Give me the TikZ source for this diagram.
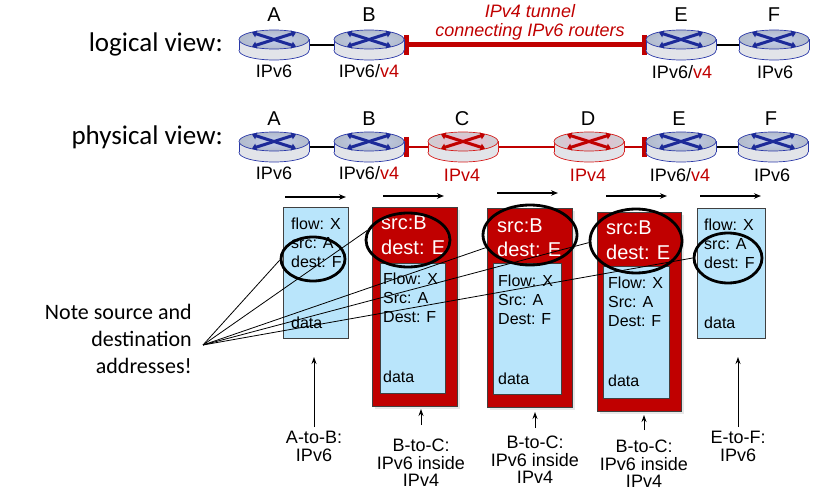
\documentclass[tikz,border=0pt]{standalone}
\usepackage{fontspec}
\setmainfont{Liberation Sans}
\newfontfamily\calfont{Carlito}
\usetikzlibrary{arrows.meta,shapes.geometric,shadows}
\definecolor{myred}{HTML}{C00000}
\definecolor{pktblue}{HTML}{B9E5FB}
\definecolor{rtblue}{HTML}{2A38A8}
\definecolor{rtface}{HTML}{B2BBCB}
\definecolor{rtlight}{HTML}{C4CFEE}
\definecolor{rtx}{HTML}{1C2A98}
\definecolor{rrface}{HTML}{CDCFD4}
\definecolor{rrlight}{HTML}{F4B4CC}
\definecolor{rrline}{HTML}{D61A1A}
\definecolor{sidegray}{HTML}{E2E4E9}
\tikzset{
  pics/router/.style args={#1/#2/#3/#4}{code={
    \filldraw[fill=sidegray, draw=#1, line width=0.7pt] (0,5.5) ellipse[x radius=35, y radius=9.5];
    \fill[sidegray] (-35,-5.5) rectangle (35,5.5);
    \draw[#1, line width=0.7pt] (-35,-5.5) -- (-35,5.5) (35,-5.5) -- (35,5.5);
    \draw[draw=#1, line width=0.7pt, inner color=#3, outer color=#2] (0,-5.5) ellipse[x radius=35, y radius=9.5];
    \draw[#4, line width=3pt, {Triangle[length=4.5pt,width=7pt]}-{Triangle[length=4.5pt,width=7pt]}] (-22,-12.5) -- (22,1.5);
    \draw[#4, line width=3pt, {Triangle[length=4.5pt,width=7pt]}-{Triangle[length=4.5pt,width=7pt]}] (22,-12.5) -- (-22,1.5);
  }},
}
\begin{document}
\begin{tikzpicture}[x=1pt,y=-1pt,
  rbox/.style={minimum width=70pt, minimum height=30pt, inner sep=0pt, outer sep=0pt},
  lett/.style={font=\fontsize{20}{22}\selectfont, anchor=base, inner sep=0pt},
  lab/.style={font=\fontsize{18}{20}\selectfont, anchor=base, inner sep=0pt},
  title/.style={font=\calfont\fontsize{27}{30}\selectfont, anchor=base east, inner sep=0pt},
  pkt/.style={draw=black!75, fill=pktblue, anchor=north west, inner sep=0pt, line width=0.8pt},
  rpkt/.style={draw=black!75, fill=myred, anchor=north west, inner sep=0pt, line width=0.8pt,
     drop shadow={opacity=0.18, shadow xshift=2.5pt, shadow yshift=-2.5pt}},
  ptxt/.style={font=\fontsize{16}{18}\selectfont, anchor=base west, inner sep=0pt},
  wtxt/.style={font=\fontsize{20}{22}\selectfont, anchor=base west, inner sep=0pt, text=white},
  hl/.style={draw, ellipse, line width=2.8pt, inner sep=0pt},
  flow/.style={-{Stealth[length=7pt,width=5.5pt]}, line width=1.6pt},
  ptr/.style={-{Stealth[length=7pt,width=5pt]}, line width=0.9pt},
  btm/.style={font=\fontsize{18}{17.5}\selectfont, align=center, anchor=north, inner sep=0pt},
  lead/.style={line width=0.8pt},
  bar/.style={myred, line width=5pt},
]
\useasboundingbox (0,0) rectangle (838,500);

% ---------- titles ----------
\node[title] (tlog) at (223,52) {logical view:};
\node[title] (tphy) at (223,145) {physical view:};

% ---------- logical view ----------
\node[rbox] (lA) at (274,45) {};
\node[rbox] (lB) at (369,45) {};
\node[rbox] (lE) at (681,45) {};
\node[rbox] (lF) at (774,45) {};
\draw[line width=1.5pt] (lA.east) -- (lB.west);
\draw[line width=1.5pt] (lE.east) -- (lF.west);
\draw[myred, line width=5pt] ([xshift=2pt]lB.east) -- ([xshift=-2pt]lE.west);
\draw[bar] ([xshift=2pt,yshift=10pt]lB.east) -- ([xshift=2pt,yshift=-10pt]lB.east);
\draw[bar] ([xshift=-2pt,yshift=10pt]lE.west) -- ([xshift=-2pt,yshift=-10pt]lE.west);
\foreach \r in {lA,lB,lE,lF} \pic at (\r) {router={rtblue/rtface/rtlight/rtx}};
\node[lett] (tlA) at (274,22) {A};
\node[lett] (tlB) at (369,22) {B};
\node[lett] (tlE) at (681,22) {E};
\node[lett] (tlF) at (774,22) {F};
\node[lab] (ilA) at (274,78) {IPv6};
\node[lab] (ilB) at (369,78) {IPv6/\textcolor{myred}{v4}};
\node[lab] (ilE) at (682,79) {IPv6/\textcolor{myred}{v4}};
\node[lab] (ilF) at (775,79) {IPv6};
\node[font=\itshape\fontsize{18}{19}\selectfont, text=myred, align=center, anchor=north, inner sep=0pt]
  (tun) at (530,4) {IPv4 tunnel\\connecting IPv6 routers};

% ---------- physical view ----------
\node[rbox] (pA) at (274,147) {};
\node[rbox] (pB) at (369,147) {};
\node[rbox] (pC) at (463,147) {};
\node[rbox] (pD) at (589,147) {};
\node[rbox] (pE) at (681,147) {};
\node[rbox] (pF) at (773,147) {};
\draw[line width=1.5pt] (pA.east) -- (pB.west);
\draw[myred, line width=1.5pt] (pB.east) -- (pC.west);
\draw[myred, line width=1.5pt] (pC.east) -- (pD.west);
\draw[myred, line width=1.5pt] (pD.east) -- (pE.west);
\draw[line width=1.5pt] (pE.east) -- (pF.west);
\draw[bar] ([xshift=2pt,yshift=10pt]pB.east) -- ([xshift=2pt,yshift=-10pt]pB.east);
\draw[bar] ([xshift=-2pt,yshift=10pt]pE.west) -- ([xshift=-2pt,yshift=-10pt]pE.west);
\foreach \r in {pA,pB,pE,pF} \pic at (\r) {router={rtblue/rtface/rtlight/rtx}};
\foreach \r in {pC,pD} \pic at (\r) {router={rrline/rrface/rrlight/myred}};
\node[lett] (tpA) at (274,126) {A};
\node[lett] (tpB) at (369,126) {B};
\node[lett] (tpC) at (462,126) {C};
\node[lett] (tpD) at (588,126) {D};
\node[lett] (tpE) at (679,126) {E};
\node[lett] (tpF) at (771,126) {F};
\node[lab] (ipA) at (274,179) {IPv6};
\node[lab] (ipB) at (369,179) {IPv6/\textcolor{myred}{v4}};
\node[lab, text=myred] (ipC) at (462,181) {IPv4};
\node[lab, text=myred] (ipD) at (588,181) {IPv4};
\node[lab] (ipE) at (680,181) {IPv6/\textcolor{myred}{v4}};
\node[lab] (ipF) at (772,181) {IPv6};

% ---------- flow arrows ----------
\coordinate (f1s) at (285,197); \coordinate (f1e) at (346,197);
\coordinate (f2s) at (383,196); \coordinate (f2e) at (444,196);
\coordinate (f3s) at (497,193); \coordinate (f3e) at (558,193);
\coordinate (f4s) at (606,196); \coordinate (f4e) at (667,196);
\coordinate (f5s) at (700,196); \coordinate (f5e) at (761,196);
\foreach \i in {1,...,5} \draw[flow] (f\i s) -- (f\i e);

% ---------- packets ----------
\node[pkt, minimum width=65pt, minimum height=131pt] (p1) at (283,207) {};
\node[ptxt] (p1a) at (291,229) {flow: X};
\node[ptxt] (p1b) at (291,248) {src: A};
\node[ptxt] (p1c) at (291,267) {dest: F};
\node[ptxt] (p1d) at (291,328) {data};

\node[rpkt, minimum width=85pt, minimum height=199pt] (p2) at (372,207) {};
\node[pkt, minimum width=65pt, minimum height=130pt] (q2) at (380,263) {};
\node[wtxt] (p2s) at (381,229) {src:B};
\node[wtxt] (p2t) at (381,254) {dest: E};
\node[ptxt] (p2a) at (383,284) {Flow: X};
\node[ptxt] (p2b) at (383,303) {Src: A};
\node[ptxt] (p2c) at (383,322) {Dest: F};
\node[ptxt] (p2d) at (383,382) {data};

\node[rpkt, minimum width=85pt, minimum height=199pt] (p3) at (487,208) {};
\node[pkt, minimum width=68pt, minimum height=131pt] (q3) at (493,263) {};
\node[wtxt] (p3s) at (497,232) {src:B};
\node[wtxt] (p3t) at (497,256) {dest: E};
\node[ptxt] (p3a) at (498,286) {Flow: X};
\node[ptxt] (p3b) at (498,305) {Src: A};
\node[ptxt] (p3c) at (498,324) {Dest: F};
\node[ptxt] (p3d) at (498,384) {data};

\node[rpkt, minimum width=84pt, minimum height=199pt] (p4) at (597,212) {};
\node[pkt, minimum width=66pt, minimum height=132pt] (q4) at (603,266) {};
\node[wtxt] (p4s) at (606,234) {src:B};
\node[wtxt] (p4t) at (606,259) {dest: E};
\node[ptxt] (p4a) at (608,288) {Flow: X};
\node[ptxt] (p4b) at (608,307) {Src: A};
\node[ptxt] (p4c) at (608,326) {Dest: F};
\node[ptxt] (p4d) at (608,386) {data};

\node[pkt, minimum width=68pt, minimum height=130pt] (p5) at (697,208) {};
\node[ptxt] (p5a) at (704,230) {flow: X};
\node[ptxt] (p5b) at (704,249) {src: A};
\node[ptxt] (p5c) at (704,268) {dest: F};
\node[ptxt] (p5d) at (704,328) {data};

% ---------- highlight ellipses ----------
\node[hl, minimum width=64pt, minimum height=44pt] (e1) at (313,259) {};
\node[hl, minimum width=84pt, minimum height=54pt] (e2) at (408,240) {};
\node[hl, minimum width=94pt, minimum height=60pt] (e3) at (530,235) {};
\node[hl, minimum width=92pt, minimum height=64pt] (e4) at (636,241) {};
\node[hl, minimum width=68pt, minimum height=50pt] (e5) at (728,258) {};

% ---------- note ----------
\node[font=\calfont\fontsize{22}{27}\selectfont, align=right, anchor=north east, inner sep=0pt]
  (note) at (192,304) {Note source and\\destination\\addresses!};
\coordinate (P) at (203,345);
\draw[lead] (P) -- (e1.182);
\draw[lead] (P) -- (e2.167);
\draw[lead] (P) -- (e3.196);
\draw[lead] (P) -- (e4.182);
\draw[lead] (P) -- (e5.180);

% ---------- bottom labels ----------
\node[btm] (b1) at (314,431) {A-to-B:\\IPv6};
\node[btm] (b2) at (421,439) {B-to-C:\\IPv6 inside\\IPv4};
\node[btm] (b3) at (535,436) {B-to-C:\\IPv6 inside\\IPv4};
\node[btm] (b4) at (644,440) {B-to-C:\\IPv6 inside\\IPv4};
\node[btm] (b5) at (738,431) {E-to-F:\\IPv6};
\coordinate (t1) at (314,357);
\coordinate (t5) at (738,357);
\draw[ptr] ([yshift=4pt]b1.north) -- (t1);
\draw[ptr] ([yshift=14pt]b2.north) -- ([yshift=30pt]b2.north);
\draw[ptr] ([yshift=8pt]b3.north) -- ([yshift=24pt]b3.north);
\draw[ptr] ([yshift=10pt]b4.north) -- ([yshift=25pt]b4.north);
\draw[ptr] ([yshift=4pt]b5.north) -- (t5);
\end{tikzpicture}
\end{document}
